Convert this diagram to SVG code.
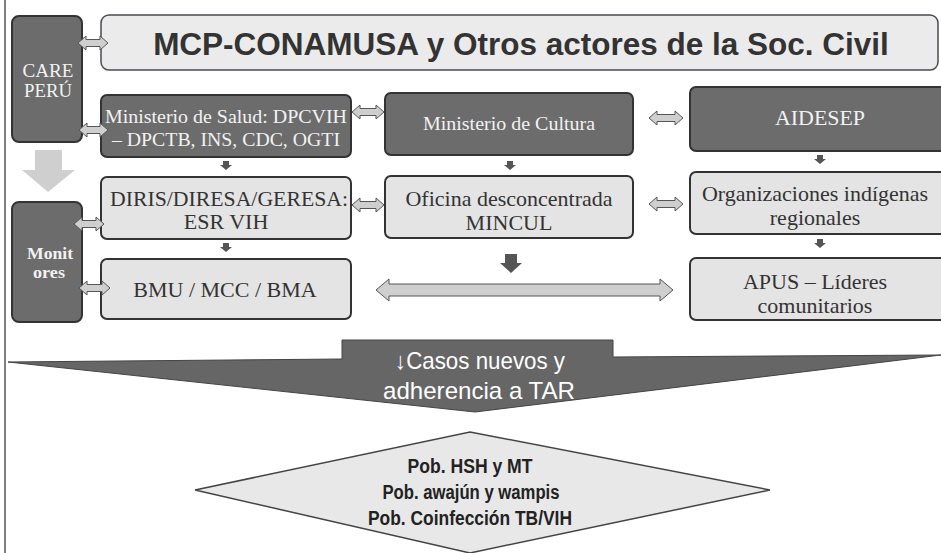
<svg xmlns="http://www.w3.org/2000/svg" width="941" height="553" viewBox="0 0 941 553">
<style>
.dark{fill:#6c6c6c;stroke:#333;stroke-width:2}
.light{fill:#e4e4e4;stroke:#333;stroke-width:2}
.top{fill:#ebebeb;stroke:#4a4a55;stroke-width:1.5}
.wt{font-family:"Liberation Serif","Times New Roman",serif;fill:#f2f2f2;text-anchor:middle}
.bt{font-family:"Liberation Serif","Times New Roman",serif;fill:#333;text-anchor:middle;font-size:22px}
.da{fill:#cfcfcf;stroke:#555;stroke-width:1}
.sa{fill:#555}
.nar{font-family:"Liberation Sans Narrow","Liberation Sans",Arial,sans-serif;text-anchor:middle}
</style>
<rect width="941" height="553" fill="#fff"/>
<line x1="5" y1="0" x2="5" y2="553" stroke="#555" stroke-width="1.5"/>

<g id="care">
<rect class="dark" x="12" y="16" width="70" height="126" rx="7"/>
<text class="wt" x="48" y="77" font-size="18" textLength="51" lengthAdjust="spacingAndGlyphs">CARE</text>
<text class="wt" x="48" y="97" font-size="18" textLength="48" lengthAdjust="spacingAndGlyphs">PERÚ</text>
</g>
<g id="monitores">
<rect class="dark" x="12" y="202" width="70" height="120" rx="7"/>
<text class="wt" x="50" y="259" font-size="17" font-weight="bold" textLength="46" lengthAdjust="spacingAndGlyphs">Monit</text>
<text class="wt" x="49" y="278" font-size="17" font-weight="bold" textLength="32" lengthAdjust="spacingAndGlyphs">ores</text>
</g>
<g id="mcp">
<rect class="top" x="101" y="15" width="837" height="55" rx="8"/>
<text x="521" y="55" font-family="Liberation Sans,Arial,sans-serif" font-weight="bold" font-size="31.5" fill="#333" text-anchor="middle">MCP-CONAMUSA y Otros actores de la Soc. Civil</text>
</g>
<g id="minsa">
<rect class="dark" x="101" y="95" width="250" height="62" rx="6"/>
<text class="wt" x="226" y="123" font-size="18" textLength="242" lengthAdjust="spacingAndGlyphs">Ministerio de Salud: DPCVIH</text>
<text class="wt" x="226" y="146" font-size="18" textLength="228" lengthAdjust="spacingAndGlyphs">– DPCTB, INS, CDC, OGTI</text>
</g>
<g id="mincul">
<rect class="dark" x="385" y="93" width="248" height="62" rx="6"/>
<text class="wt" x="509" y="130" font-size="19" textLength="172" lengthAdjust="spacingAndGlyphs">Ministerio de Cultura</text>
</g>
<g id="aidesep">
<rect class="dark" x="690" y="87" width="260" height="64" rx="6"/>
<text class="wt" x="820" y="125" font-size="20" fill="#ddd" textLength="90" lengthAdjust="spacingAndGlyphs">AIDESEP</text>
</g>
<g id="diris">
<rect class="light" x="101" y="177" width="250" height="62" rx="6"/>
<text class="bt" x="229" y="206" textLength="238" lengthAdjust="spacingAndGlyphs">DIRIS/DIRESA/GERESA:</text>
<text class="bt" x="226" y="229">ESR VIH</text>
</g>
<g id="oficina">
<rect class="light" x="385" y="176" width="248" height="62" rx="6"/>
<text class="bt" x="509" y="206">Oficina desconcentrada</text>
<text class="bt" x="509" y="230">MINCUL</text>
</g>
<g id="organizaciones">
<rect class="light" x="690" y="172" width="260" height="62" rx="6"/>
<text class="bt" x="815" y="201" font-size="23.5">Organizaciones indígenas</text>
<text class="bt" x="815" y="225" font-size="23.5">regionales</text>
</g>
<g id="bmu">
<rect class="light" x="101" y="259" width="250" height="60" rx="6"/>
<text class="bt" x="225" y="297">BMU / MCC / BMA</text>
</g>
<g id="apus">
<rect class="light" x="690" y="258" width="260" height="62" rx="6"/>
<text class="bt" x="815" y="289" font-size="23">APUS – Líderes</text>
<text class="bt" x="815" y="313" font-size="23">comunitarios</text>
</g>
<g id="resultado">
<polygon points="8,362 342,359 342,340 613,340 613,357 941,355 475,412" fill="#666" stroke="#444" stroke-width="1"/>
<text class="nar" x="480" y="369" font-size="24" fill="#fff" textLength="170" lengthAdjust="spacingAndGlyphs">↓Casos nuevos y</text>
<text class="nar" x="479" y="399" font-size="24" fill="#fff" textLength="192" lengthAdjust="spacingAndGlyphs">adherencia a TAR</text>
</g>
<g id="poblacion">
<polygon points="470,432 770,490 470,553 195,490" fill="#e8e8e8" stroke="#444" stroke-width="1.5"/>
<text class="nar" x="470" y="473" font-size="20" font-weight="bold" fill="#222" textLength="125" lengthAdjust="spacingAndGlyphs">Pob. HSH y MT</text>
<text class="nar" x="471" y="499" font-size="20" font-weight="bold" fill="#222" textLength="177" lengthAdjust="spacingAndGlyphs">Pob. awajún y wampis</text>
<text class="nar" x="470" y="525" font-size="20" font-weight="bold" fill="#222" textLength="204" lengthAdjust="spacingAndGlyphs">Pob. Coinfección TB/VIH</text>
</g>

<g id="connectors">
<path d="M35,150 h27 v20 h13 l-27,22 l-26,-22 h13 z" fill="#cfcfcf"/>
<path class="da" d="M78,43 L86,36 L86,39.5 L100,39.5 L100,36 L108,43 L100,50 L100,46.5 L86,46.5 L86,50 Z"/>
<path class="da" d="M79,130 L87,123 L87,126.5 L100,126.5 L100,123 L108,130 L100,137 L100,133.5 L87,133.5 L87,137 Z"/>
<path class="da" d="M352,112 L360,105 L360,108.5 L376,108.5 L376,105 L384,112 L376,119 L376,115.5 L360,115.5 L360,119 Z"/>
<path class="da" d="M649,118 L657,111 L657,114.5 L675,114.5 L675,111 L683,118 L675,125 L675,121.5 L657,121.5 L657,125 Z"/>
<path class="da" d="M352,205 L360,198 L360,201.5 L376,201.5 L376,198 L384,205 L376,212 L376,208.5 L360,208.5 L360,212 Z"/>
<path class="da" d="M649,204 L657,197 L657,200.5 L675,200.5 L675,197 L683,204 L675,211 L675,207.5 L657,207.5 L657,211 Z"/>
<path class="da" d="M74,224 L82,217 L82,220.5 L96,220.5 L96,217 L104,224 L96,231 L96,227.5 L82,227.5 L82,231 Z"/>
<path class="da" d="M79,288 L87,281 L87,284.5 L102,284.5 L102,281 L110,288 L102,295 L102,291.5 L87,291.5 L87,295 Z"/>
<path class="da" d="M376,290 L389,279 L389,284 L660,284 L660,279 L673,290 L660,301 L660,296 L389,296 L389,301 Z"/>
<path class="sa" d="M223,161 h6 v4 h3 l-6,5 l-6,-5 h3 z"/>
<path class="sa" d="M507,161 h6 v4 h3 l-6,5 l-6,-5 h3 z"/>
<path class="sa" d="M817,155 h6 v4 h3 l-6,5 l-6,-5 h3 z"/>
<path class="sa" d="M223,243 h6 v4 h3 l-6,5 l-6,-5 h3 z"/>
<path class="sa" d="M817,239 h6 v4 h3 l-6,5 l-6,-5 h3 z"/>
<path class="sa" d="M505,254 h12 v9 h5 l-11,10 l-11,-10 h5 z"/>
</g>
</svg>
